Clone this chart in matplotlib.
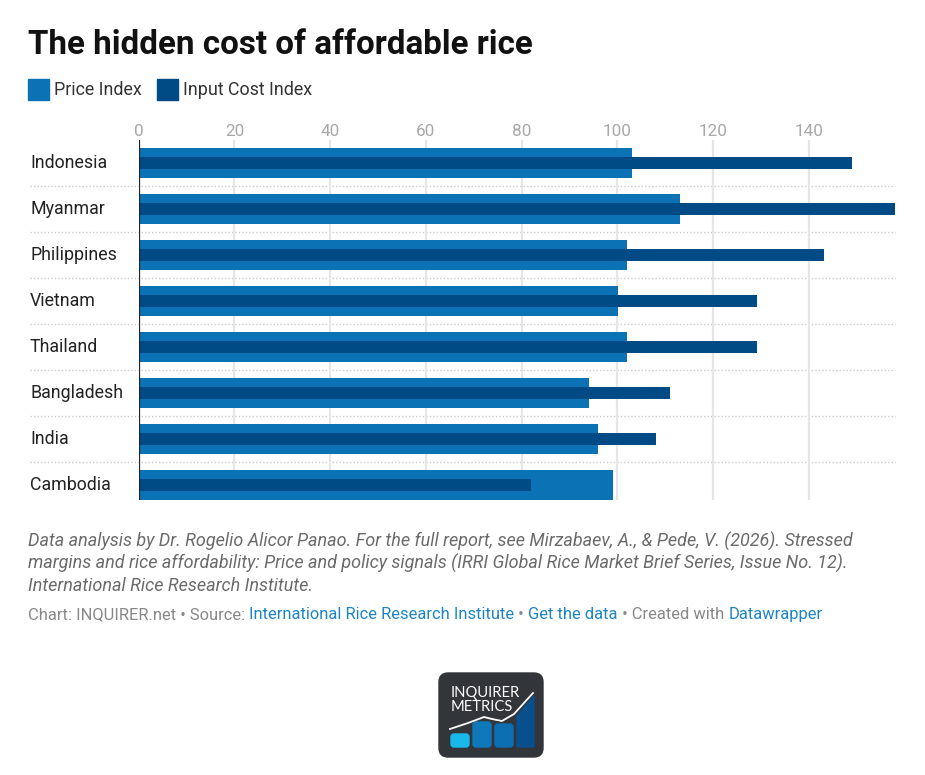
import numpy as np
import matplotlib.pyplot as plt
from matplotlib.patches import FancyBboxPatch, Rectangle, Polygon
from matplotlib.transforms import blended_transform_factory

plt.rcParams['font.family'] = ['Roboto', 'DejaVu Sans']

countries = ['Indonesia', 'Myanmar', 'Philippines', 'Vietnam', 'Thailand',
             'Bangladesh', 'India', 'Cambodia']
price_index = [103.1, 113.1, 102.0, 100.1, 102.0, 94.1, 96.0, 99.1]
input_cost = [149.0, 158.0, 143.2, 129.2, 129.2, 111.0, 108.1, 82.0]
xticks = [0, 20, 40, 60, 80, 100, 120, 140]

c_price = '#0b73b5'
c_input = '#004a86'

W, H = 925, 775
fig = plt.figure(figsize=(W / 100, H / 100), dpi=100)

# pixel-coordinate overlay for text and decoration
bg = fig.add_axes([0, 0, 1, 1])
bg.set_xlim(0, W)
bg.set_ylim(H, 0)
bg.axis('off')

x0, x1, y0, y1 = 138.7, 895, 140, 500
ax = fig.add_axes([x0 / W, 1 - y1 / H, (x1 - x0) / W, (y1 - y0) / H])
y = np.arange(len(countries))
ax.barh(y, price_index, height=30 / 46, color=c_price, zorder=2)
ax.barh(y, input_cost, height=12 / 46, color=c_input, zorder=3)
ax.set_xlim(0, 158)
ax.set_ylim(7 + 15 / 46, -0.5)
ax.set_xticks(xticks)
ax.xaxis.tick_top()
ax.tick_params(axis='x', length=0, pad=1, labelsize=12.3, labelcolor='#a8a8a8')
ax.set_yticks([])
ax.grid(axis='x', color='#e6e6e6', lw=1.6, zorder=0)
ax.axvline(0, color='#222222', lw=1.6, zorder=4)
for s in ax.spines.values():
    s.set_visible(False)

# dotted row separators reaching under the labels
for i in range(len(countries) - 1):
    ax.axhline(i + 0.5, xmin=(30 - x0) / (x1 - x0), xmax=1.0, color='#cccccc',
               lw=1, ls=(0, (1, 1.5)), clip_on=False, zorder=1)

trans = blended_transform_factory(bg.transData, ax.transData)
for i, name in enumerate(countries):
    ax.text(30, i, name, transform=trans, ha='left', va='center',
            fontsize=12.8, color='#222222')

# title and legend
bg.text(28, 54, 'The hidden cost of affordable rice', fontsize=23.9,
        fontweight='bold', color='#111111', va='baseline', ha='left')
bg.add_patch(Rectangle((28, 79), 21, 21, color=c_price))
bg.text(54, 95, 'Price Index', fontsize=12.9, color='#333333', va='baseline')
bg.add_patch(Rectangle((157, 79), 21, 21, color=c_input))
bg.text(183, 95, 'Input Cost Index', fontsize=12.9, color='#333333', va='baseline')

# notes
notes = ['Data analysis by Dr. Rogelio Alicor Panao. For the full report, see Mirzabaev, A., & Pede, V. (2026). Stressed',
         'margins and rice affordability: Price and policy signals (IRRI Global Rice Market Brief Series, Issue No. 12).',
         'International Rice Research Institute.']
for k, line in enumerate(notes):
    bg.text(28, 547 + 22 * k, line, fontsize=13.0, style='italic',
            color='#6b6b6b', va='baseline')

# footer with coloured links
grey, blue = '#888888', '#1b84c6'
pieces = [('Chart: INQUIRER.net • Source: ', grey),
          ('International Rice Research Institute', blue),
          (' • ', grey), ('Get the data', blue),
          (' • Created with ', grey), ('Datawrapper', blue)]
fig.canvas.draw()
r = fig.canvas.get_renderer()
xp = 28
for txt, col in pieces:
    t = bg.text(xp, 619, txt, fontsize=11.85, color=col, va='baseline')
    bb = t.get_window_extent(r)
    xp += bb.width

# logo
bg.add_patch(FancyBboxPatch((443, 677), 96, 76, boxstyle='round,pad=4,rounding_size=9',
                            color='#32353a'))
bg.text(451, 697, 'INQUIRER', fontsize=10.6, color='white', ha='left',
        va='baseline', family='Lato')
bg.text(451, 711, 'METRICS', fontsize=10.6, color='white', ha='left',
        va='baseline', family='Lato')
logo_cols = ['#19b8ea', '#0e78bb', '#0b6fb1', '#08508d']
logo_tops = [734, 722, 724, 700]
for j, (col, top) in enumerate(zip(logo_cols, logo_tops)):
    bx = 451 + 22 * j
    if j == 3:
        bg.add_patch(Polygon([(bx, 747), (bx, 716), (bx + 17, 696), (bx + 17, 747)],
                             color=col))
    else:
        bg.add_patch(FancyBboxPatch((bx + 2, top + 2), 14, 747 - top - 4,
                                    boxstyle='round,pad=2,rounding_size=3', color=col))
bg.plot([450, 468, 484, 492, 502, 514, 533], [729, 723, 717, 719, 721, 714, 693],
        color='white', lw=1.3)

fig.savefig('out.png', dpi=100)
